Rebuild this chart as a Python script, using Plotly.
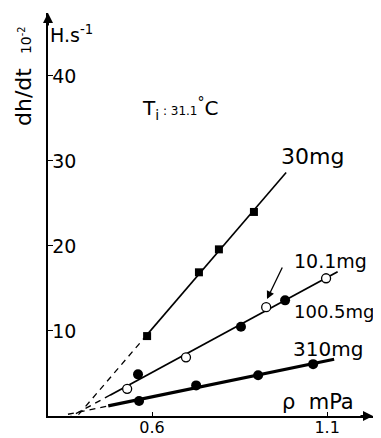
import numpy as np
import plotly.graph_objects as go

# ---- data ----
p_30mg = [0.586, 0.734, 0.791, 0.891]
r_30mg = [9.4, 16.9, 19.6, 24.0]

p_1005mg = [0.56, 0.854, 0.98]
r_1005mg = [4.9, 10.5, 13.6]

p_101mg = [0.529, 0.697, 0.926, 1.097]
r_101mg = [3.2, 6.9, 12.8, 16.2]

p_310mg = [0.563, 0.726, 0.903, 1.06]
r_310mg = [1.76, 3.6, 4.8, 6.1]

# extent of the fitted lines: [dashed start, solid start, solid end]
line_30mg = [0.39, 0.586, 0.983]
line_10mg = [0.355, 0.48, 1.13]
line_310mg = [0.36, 0.475, 1.12]

x_ticks = [0.6, 1.1]
x_ticklabels = ["0.6", "1.1"]
y_ticks = [10, 20, 30, 40]

X_RANGE = [0.303, 1.231]
Y_RANGE = [0, 47.4]

OFF = 8  # page body margin
W, H = 381 - OFF, 438 - OFF
ML, MT = 48 - OFF, 13 - OFF
MR = W - (373 - OFF)
MB = H - (416 - OFF)
PW, PH = W - ML - MR, H - MT - MB


def px2d(px, py):
    px, py = px - OFF, py - OFF
    x = X_RANGE[0] + (px - ML) / PW * (X_RANGE[1] - X_RANGE[0])
    y = Y_RANGE[0] + (H - MB - py) / PH * (Y_RANGE[1] - Y_RANGE[0])
    return x, y


def px2p(px, py):
    px, py = px - OFF, py - OFF
    return (px - ML) / PW, (H - MB - py) / PH


FONT = "DejaVu Sans"
fig = go.Figure()


def add_fit(xs, ys, ext, width):
    k, b = np.polyfit(xs, ys, 1)
    xd = np.array(ext[:2])
    xs_ = np.array(ext[1:])
    fig.add_trace(go.Scatter(x=xd, y=k * xd + b, mode="lines",
                             line=dict(color="black", width=1.3, dash="6px,5px"),
                             showlegend=False, hoverinfo="skip"))
    fig.add_trace(go.Scatter(x=xs_, y=k * xs_ + b, mode="lines",
                             line=dict(color="black", width=width),
                             showlegend=False, hoverinfo="skip"))


add_fit(p_30mg, r_30mg, line_30mg, 1.6)
add_fit(p_1005mg + p_101mg, r_1005mg + r_101mg, line_10mg, 1.8)
add_fit(p_310mg, r_310mg, line_310mg, 3.2)

fig.add_trace(go.Scatter(x=p_30mg, y=r_30mg, mode="markers", showlegend=False,
                         marker=dict(symbol="square", size=8, color="black")))
fig.add_trace(go.Scatter(x=p_1005mg, y=r_1005mg, mode="markers", showlegend=False,
                         marker=dict(symbol="circle", size=10, color="black")))
fig.add_trace(go.Scatter(x=p_101mg, y=r_101mg, mode="markers", showlegend=False,
                         marker=dict(symbol="circle", size=9, color="white",
                                     line=dict(color="black", width=1.3))))
fig.add_trace(go.Scatter(x=p_310mg, y=r_310mg, mode="markers", showlegend=False,
                         marker=dict(symbol="circle", size=10, color="black")))

ann = []


def text(px, py, s, size, **kw):
    x, y = px2p(px, py)
    d = dict(x=x, y=y, xref="paper", yref="paper", text=s, showarrow=False,
             xanchor="center", yanchor="middle",
             font=dict(family=FONT, size=size, color="black"))
    d.update(kw)
    ann.append(d)


text(312, 156, "30mg", 22)
text(330, 261, "10.1mg", 19)
text(334, 311, "100.5mg", 18)
text(328, 349, "310mg", 20)
text(318, 402, "ρ  mPa", 21)
text(180, 108, "T<sub>i</sub><span style='font-size:12px'> : 31.1</span><sup>°</sup>C", 20)
text(71, 34, "H.s<sup>-1</sup>", 19)
text(23, 76, "dh/dt  <span style='font-size:14px'>10<sup>-2</sup></span>", 22,
     textangle=-90)

# arrow to the 10.1mg points
ax0, ay0 = px2d(283, 266)
ax1, ay1 = px2d(267, 299)
ann.append(dict(x=ax1, y=ay1, ax=ax0, ay=ay0, xref="x", yref="y", axref="x", ayref="y",
                showarrow=True, arrowhead=2, arrowsize=1.2, arrowwidth=1.3,
                arrowcolor="black", text=""))
# axis arrows
ann.append(dict(x=1, y=0, ax=-14, ay=0, xref="paper", yref="paper", showarrow=True,
                arrowhead=2, arrowsize=1, arrowwidth=2, arrowcolor="black", text=""))
ann.append(dict(x=0, y=1, ax=0, ay=14, xref="paper", yref="paper", showarrow=True,
                arrowhead=2, arrowsize=1, arrowwidth=2, arrowcolor="black", text=""))

fig.update_layout(
    width=W, height=H, margin=dict(l=ML, r=MR, t=MT, b=MB),
    plot_bgcolor="white", paper_bgcolor="white", annotations=ann,
    xaxis=dict(range=X_RANGE, showgrid=False, zeroline=False, showline=True,
               linecolor="black", linewidth=2, ticks="inside", ticklen=4,
               tickcolor="black", tickvals=x_ticks, ticktext=x_ticklabels,
               automargin=False, ticklabelstandoff=-4,
               tickfont=dict(family=FONT, size=16, color="black")),
    yaxis=dict(range=Y_RANGE, showgrid=False, zeroline=False, showline=True,
               linecolor="black", linewidth=2, ticks="inside", ticklen=5,
               tickcolor="black", tickvals=y_ticks, ticklabelposition="inside",
               automargin=False,
               tickfont=dict(family=FONT, size=19, color="black")),
)

fig.write_html("out.html")
